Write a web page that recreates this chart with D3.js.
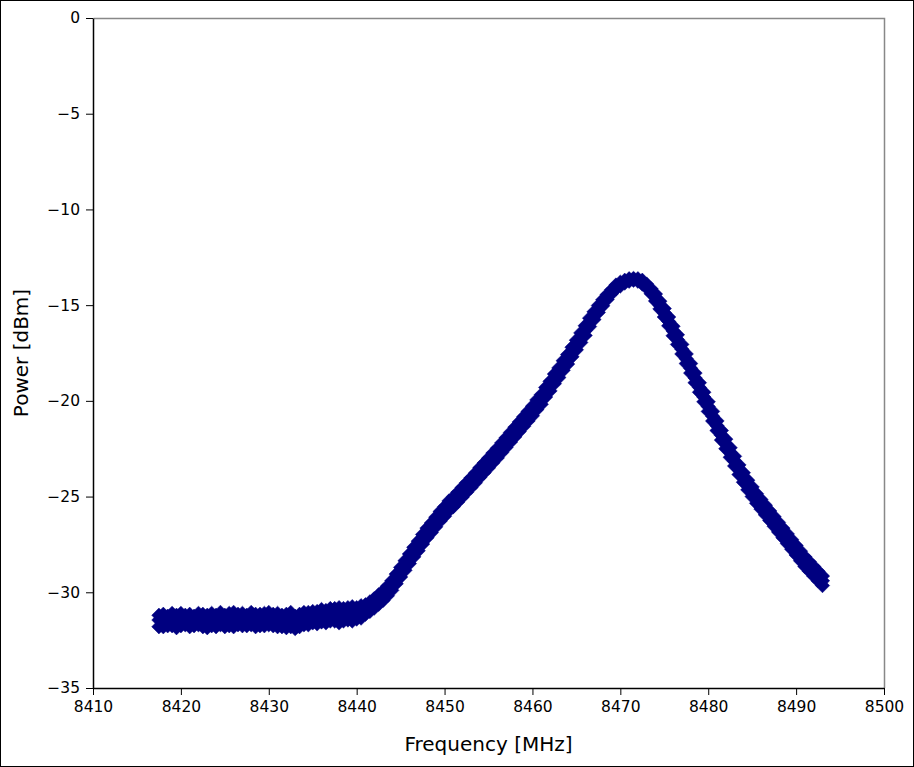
<!DOCTYPE html>
<html>
<head>
<meta charset="utf-8">
<script src="https://cdn.jsdelivr.net/npm/d3@7"></script>
<style>
  body { margin: 0; background: #fff; }
  svg { display: block; font-family: "DejaVu Sans", sans-serif; }
</style>
</head>
<body>
<div id="chart"></div>
<script>
// measured spectrum, three sweeps over the same frequency grid
const freqs = [
  8417.5, 8418.0, 8418.5, 8419.0, 8419.5, 8420.0, 8420.5, 8421.0, 8421.5, 8422.0,
  8422.5, 8423.0, 8423.5, 8424.0, 8424.5, 8425.0, 8425.5, 8426.0, 8426.5, 8427.0,
  8427.5, 8428.0, 8428.5, 8429.0, 8429.5, 8430.0, 8430.5, 8431.0, 8431.5, 8432.0,
  8432.5, 8433.0, 8433.5, 8434.0, 8434.5, 8435.0, 8435.5, 8436.0, 8436.5, 8437.0,
  8437.5, 8438.0, 8438.5, 8439.0, 8439.5, 8440.0, 8440.5, 8441.0, 8441.5, 8442.0,
  8442.5, 8443.0, 8443.5, 8444.0, 8444.5, 8445.0, 8445.5, 8446.0, 8446.5, 8447.0,
  8447.5, 8448.0, 8448.5, 8449.0, 8449.5, 8450.0, 8450.5, 8451.0, 8451.5, 8452.0,
  8452.5, 8453.0, 8453.5, 8454.0, 8454.5, 8455.0, 8455.5, 8456.0, 8456.5, 8457.0,
  8457.5, 8458.0, 8458.5, 8459.0, 8459.5, 8460.0, 8460.5, 8461.0, 8461.5, 8462.0,
  8462.5, 8463.0, 8463.5, 8464.0, 8464.5, 8465.0, 8465.5, 8466.0, 8466.5, 8467.0,
  8467.5, 8468.0, 8468.5, 8469.0, 8469.5, 8470.0, 8470.5, 8471.0, 8471.5, 8472.0,
  8472.5, 8473.0, 8473.5, 8474.0, 8474.5, 8475.0, 8475.5, 8476.0, 8476.5, 8477.0,
  8477.5, 8478.0, 8478.5, 8479.0, 8479.5, 8480.0, 8480.5, 8481.0, 8481.5, 8482.0,
  8482.5, 8483.0, 8483.5, 8484.0, 8484.5, 8485.0, 8485.5, 8486.0, 8486.5, 8487.0,
  8487.5, 8488.0, 8488.5, 8489.0, 8489.5, 8490.0, 8490.5, 8491.0, 8491.5, 8492.0,
  8492.5, 8493.0
];

const sweepA = [
  -31.20, -31.15, -31.25, -31.10, -31.20, -31.10, -31.20, -31.15, -31.25, -31.10,
  -31.15, -31.20, -31.10, -31.20, -31.05, -31.20, -31.10, -31.05, -31.15, -31.10,
  -31.20, -31.05, -31.15, -31.15, -31.10, -31.05, -31.15, -31.10, -31.20, -31.15,
  -31.05, -31.25, -31.15, -31.05, -31.05, -31.00, -31.00, -30.90, -30.95, -30.85,
  -30.85, -30.80, -30.85, -30.80, -30.75, -30.80, -30.70, -30.65, -30.50, -30.33,
  -30.13, -29.93, -29.68, -29.40, -29.05, -28.70, -28.35, -28.00, -27.65, -27.33,
  -26.98, -26.65, -26.38, -26.08, -25.78, -25.53, -25.23, -25.03, -24.78, -24.53,
  -24.28, -24.03, -23.78, -23.50, -23.25, -23.00, -22.73, -22.48, -22.20, -21.93,
  -21.65, -21.38, -21.10, -20.83, -20.55, -20.28, -19.95, -19.68, -19.30, -18.98,
  -18.60, -18.28, -17.90, -17.58, -17.20, -16.83, -16.45, -16.08, -15.68, -15.35,
  -15.02, -14.72, -14.45, -14.20, -13.95, -13.80, -13.70, -13.62, -13.60, -13.62,
  -13.70, -13.90, -14.15, -14.42, -14.80, -15.18, -15.62, -16.10, -16.55, -17.05,
  -17.55, -18.05, -18.55, -19.05, -19.55, -20.05, -20.55, -21.05, -21.55, -22.00,
  -22.45, -22.90, -23.35, -23.75, -24.15, -24.50, -24.85, -25.15, -25.45, -25.75,
  -26.05, -26.35, -26.65, -26.95, -27.25, -27.55, -27.85, -28.15, -28.40, -28.65,
  -28.90, -29.15
];

const sweepB = [
  -31.80, -31.80, -31.75, -31.75, -31.85, -31.75, -31.70, -31.80, -31.75, -31.70,
  -31.80, -31.85, -31.75, -31.80, -31.70, -31.80, -31.75, -31.80, -31.70, -31.75,
  -31.75, -31.70, -31.80, -31.75, -31.75, -31.70, -31.75, -31.80, -31.80, -31.85,
  -31.80, -31.90, -31.80, -31.70, -31.70, -31.60, -31.65, -31.55, -31.60, -31.50,
  -31.50, -31.60, -31.50, -31.45, -31.50, -31.40, -31.35, -31.15, -31.00, -30.83,
  -30.63, -30.43, -30.18, -29.90, -29.55, -29.20, -28.85, -28.50, -28.15, -27.83,
  -27.48, -27.15, -26.88, -26.58, -26.28, -26.03, -25.73, -25.53, -25.28, -25.03,
  -24.78, -24.53, -24.28, -24.00, -23.75, -23.50, -23.23, -22.98, -22.70, -22.43,
  -22.15, -21.88, -21.60, -21.33, -21.05, -20.78, -20.45, -20.18, -19.80, -19.48,
  -19.10, -18.78, -18.40, -18.08, -17.70, -17.33, -16.95, -16.58, -16.12, -15.75,
  -15.38, -15.03, -14.70, -14.40, -14.15, -14.00, -13.85, -13.75, -13.70, -13.75,
  -13.90, -14.10, -14.40, -14.78, -15.20, -15.62, -16.08, -16.60, -17.05, -17.55,
  -18.05, -18.55, -19.05, -19.55, -20.05, -20.55, -21.05, -21.55, -22.05, -22.50,
  -22.95, -23.40, -23.85, -24.25, -24.65, -25.00, -25.35, -25.65, -25.95, -26.25,
  -26.55, -26.85, -27.15, -27.45, -27.75, -28.05, -28.35, -28.65, -28.90, -29.15,
  -29.40, -29.65
];

const sweepC = [
  -31.45, -31.50, -31.45, -31.40, -31.55, -31.45, -31.40, -31.50, -31.45, -31.40,
  -31.45, -31.55, -31.40, -31.50, -31.40, -31.45, -31.45, -31.40, -31.45, -31.40,
  -31.50, -31.40, -31.45, -31.45, -31.40, -31.40, -31.45, -31.45, -31.50, -31.50,
  -31.45, -31.60, -31.45, -31.40, -31.35, -31.30, -31.35, -31.25, -31.25, -31.20,
  -31.15, -31.20, -31.15, -31.15, -31.10, -31.10, -31.05, -30.90, -30.75, -30.58,
  -30.38, -30.18, -29.93, -29.65, -29.30, -28.95, -28.60, -28.25, -27.90, -27.58,
  -27.23, -26.90, -26.63, -26.33, -26.03, -25.78, -25.48, -25.28, -25.03, -24.78,
  -24.53, -24.28, -24.03, -23.75, -23.50, -23.25, -22.98, -22.73, -22.45, -22.18,
  -21.90, -21.63, -21.35, -21.08, -20.80, -20.53, -20.20, -19.93, -19.55, -19.23,
  -18.85, -18.53, -18.15, -17.83, -17.45, -17.08, -16.70, -16.33, -15.90, -15.55,
  -15.20, -14.88, -14.58, -14.30, -14.05, -13.90, -13.78, -13.68, -13.65, -13.68,
  -13.80, -14.00, -14.28, -14.60, -15.00, -15.40, -15.85, -16.35, -16.80, -17.30,
  -17.80, -18.30, -18.80, -19.30, -19.80, -20.30, -20.80, -21.30, -21.80, -22.25,
  -22.70, -23.15, -23.60, -24.00, -24.40, -24.75, -25.10, -25.40, -25.70, -26.00,
  -26.30, -26.60, -26.90, -27.20, -27.50, -27.80, -28.10, -28.40, -28.65, -28.90,
  -29.15, -29.40
];

const xTicks = [8410, 8420, 8430, 8440, 8450, 8460, 8470, 8480, 8490, 8500];
const yTicks = [0, -5, -10, -15, -20, -25, -30, -35];

const W = 914, H = 767;
const margin = { top: 18, right: 30, bottom: 79, left: 93 };
const width = W - margin.left - margin.right;
const height = H - margin.top - margin.bottom;

const svg = d3.select("#chart").append("svg")
  .attr("width", W)
  .attr("height", H);

// outer frame
svg.append("rect")
  .attr("x", 0.5).attr("y", 0.5)
  .attr("width", W - 1).attr("height", H - 1)
  .attr("fill", "#fff")
  .attr("stroke", "#000");

const g = svg.append("g")
  .attr("transform", `translate(${margin.left},${margin.top})`);

const x = d3.scaleLinear().domain([8410, 8500]).range([0, width]);
const y = d3.scaleLinear().domain([-35, 0]).range([height, 0]);

const fmt = d => String(d).replace("-", "\u2212");

// top and right spines in grey
g.append("path")
  .attr("d", `M0.5,0.5H${width + 0.5}V${height}`)
  .attr("fill", "none")
  .attr("stroke", "#888")
  .attr("stroke-width", 1.5);

const xAxis = g.append("g")
  .attr("transform", `translate(0,${height})`)
  .call(d3.axisBottom(x).tickValues(xTicks).tickFormat(fmt).tickSizeInner(7).tickSizeOuter(0).tickPadding(6));

const yAxis = g.append("g")
  .call(d3.axisLeft(y).tickValues(yTicks).tickFormat(fmt).tickSizeInner(7).tickSizeOuter(0).tickPadding(6));

[xAxis, yAxis].forEach(a => {
  a.selectAll("text").attr("font-size", 15.5).attr("fill", "#000")
    .attr("font-family", "DejaVu Sans");
  a.selectAll("line").attr("stroke", "#000");
  a.select(".domain").attr("stroke", "#000").attr("stroke-width", 1.5);
});

// diamond marker
const r = 7.2;
const diamond = `M0,${-r}L${r},0L0,${r}L${-r},0Z`;

const points = [];
freqs.forEach((f, i) => {
  points.push({ f: f, p: sweepA[i] });
  points.push({ f: f, p: sweepC[i] });
  points.push({ f: f, p: sweepB[i] });
});

g.append("g").selectAll("path")
  .data(points)
  .enter()
  .append("path")
  .attr("d", diamond)
  .attr("transform", d => `translate(${x(d.f)},${y(d.p)})`)
  .attr("fill", "#000080")
  .attr("stroke", "#000080")
  .attr("stroke-width", 0.5);

g.append("text")
  .attr("text-anchor", "middle")
  .attr("x", width / 2)
  .attr("y", height + 63)
  .attr("font-size", 20)
  .text("Frequency [MHz]");

g.append("text")
  .attr("text-anchor", "middle")
  .attr("transform", "rotate(-90)")
  .attr("x", -height / 2)
  .attr("y", -65)
  .attr("font-size", 20)
  .text("Power [dBm]");
</script>
</body>
</html>
